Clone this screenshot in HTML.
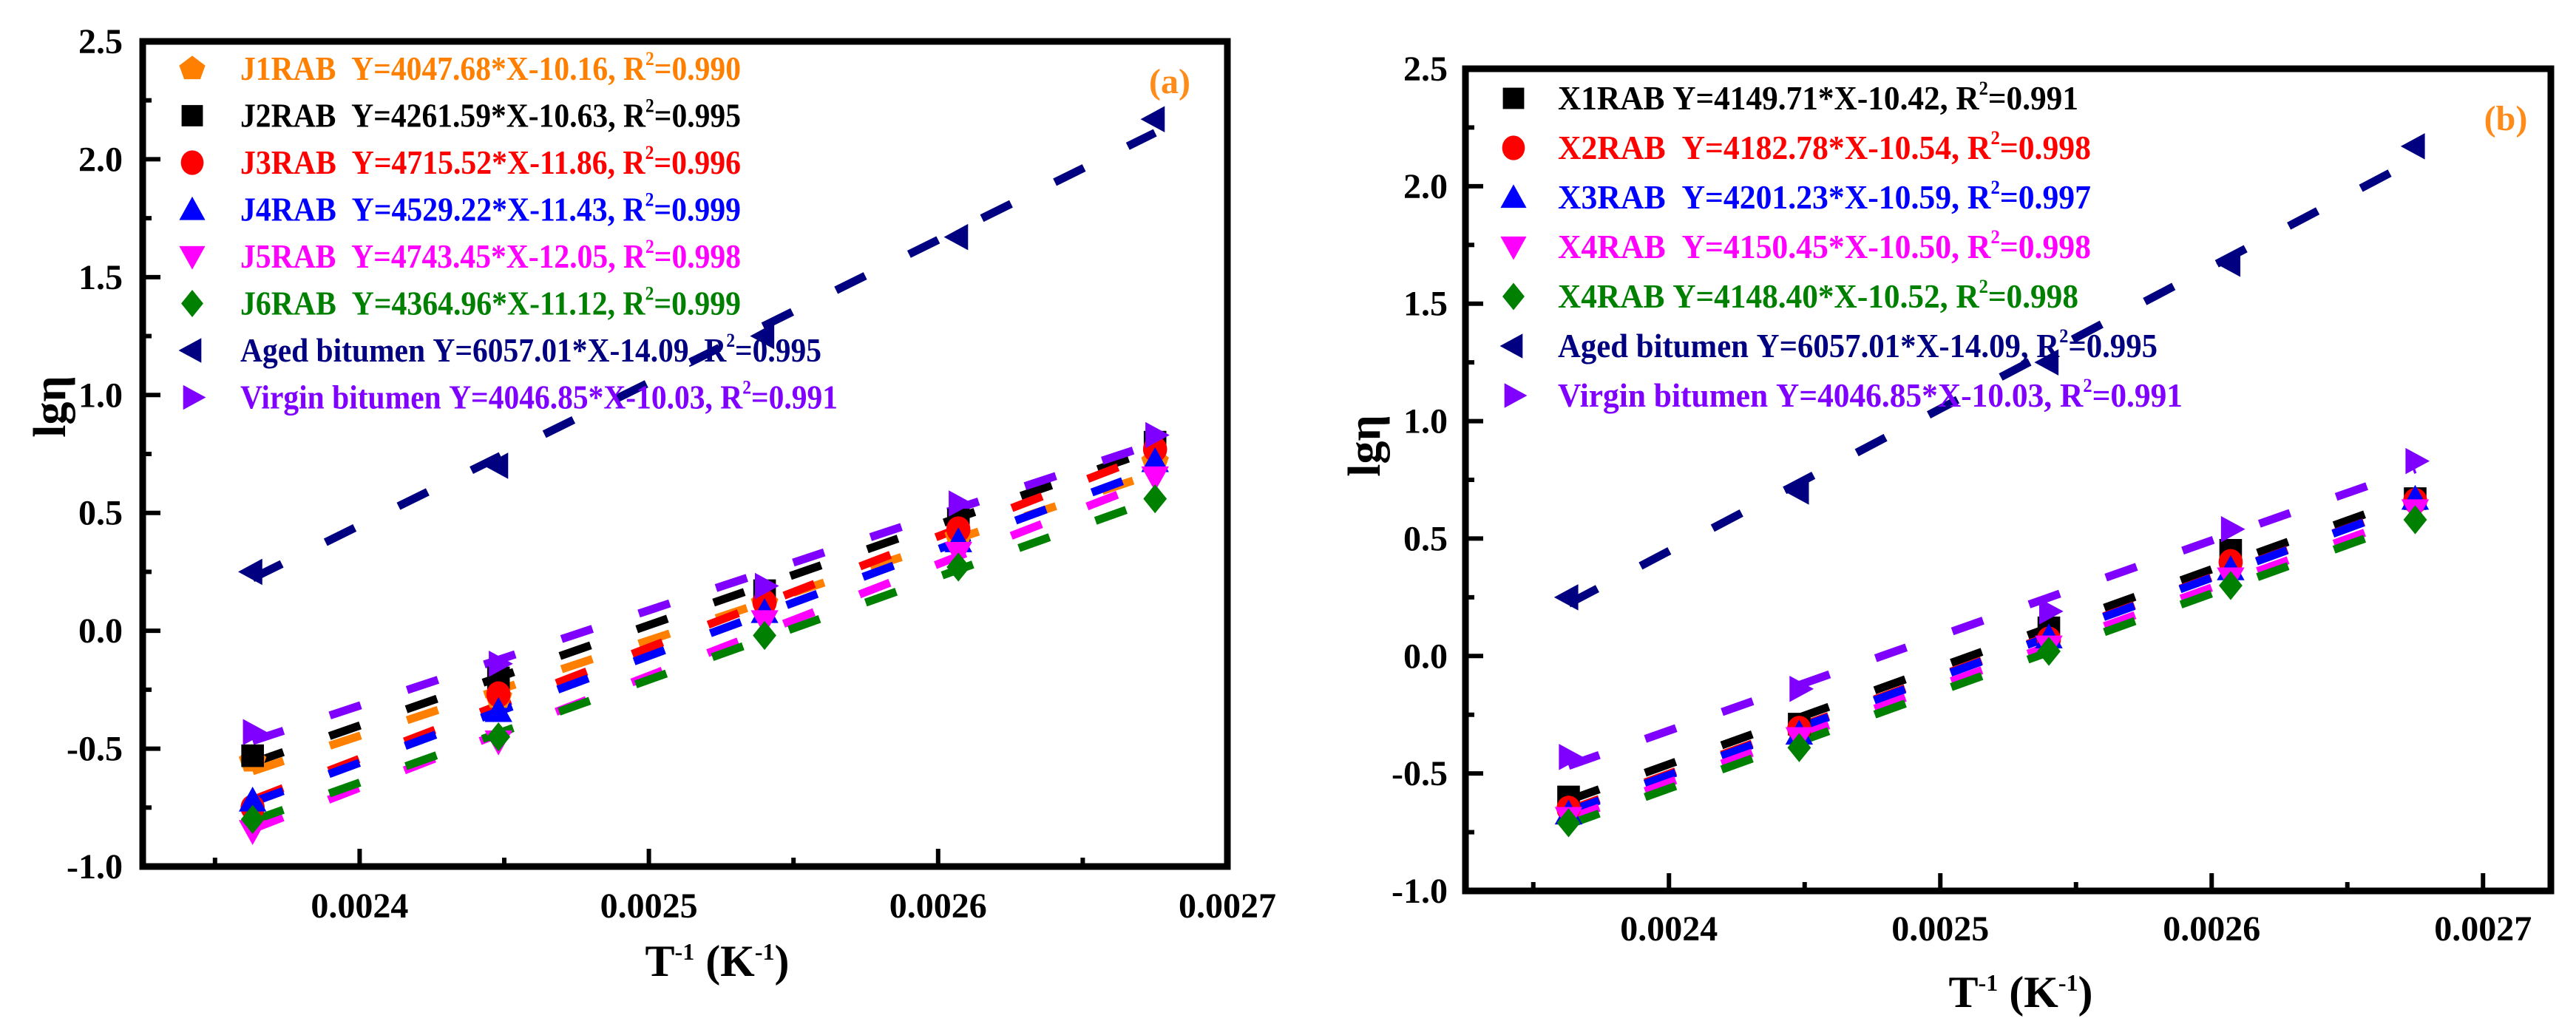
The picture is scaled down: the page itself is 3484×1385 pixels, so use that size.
<!DOCTYPE html>
<html><head><meta charset="utf-8">
<style>
html,body{margin:0;padding:0;background:#fff;}
svg{display:block;font-family:"Liberation Serif","DejaVu Serif",serif;}
svg text{font-family:"Liberation Serif","DejaVu Serif",serif !important;font-weight:bold;white-space:pre;}
</style></head>
<body>
<svg id="chart" width="3484" height="1385" viewBox="0 0 3484 1385" xmlns="http://www.w3.org/2000/svg" font-family="Liberation Serif, DejaVu Serif, serif"></svg>
<script>
// ---- data ----
const tempX = [0.002363, 0.002448, 0.002540, 0.002607, 0.002675];
const yTicks = [-1.0, -0.5, 0.0, 0.5, 1.0, 1.5, 2.0, 2.5];
const yTickLabels = ["-1.0","-0.5","0.0","0.5","1.0","1.5","2.0","2.5"];
const xTicks = [0.0024, 0.0025, 0.0026, 0.0027];
const xTickLabels = ["0.0024","0.0025","0.0026","0.0027"];

const aNames = ["J1RAB","J2RAB","J3RAB","J4RAB","J5RAB","J6RAB","Aged bitumen","Virgin bitumen"];
const aEq = ["  Y=4047.68*X-10.16, R","  Y=4261.59*X-10.63, R","  Y=4715.52*X-11.86, R","  Y=4529.22*X-11.43, R","  Y=4743.45*X-12.05, R","  Y=4364.96*X-11.12, R"," Y=6057.01*X-14.09, R"," Y=4046.85*X-10.03, R"];
const aR2 = ["=0.990","=0.995","=0.996","=0.999","=0.998","=0.999","=0.995","=0.991"];
const aSlope = [4047.68,4261.59,4715.52,4529.22,4743.45,4364.96,6057.01,4046.85];
const aIntercept = [-10.16,-10.63,-11.86,-11.43,-12.05,-11.12,-14.09,-10.03];
const aJ1 = [-0.55,-0.28,0.12,0.40,0.72];
const aJ2 = [-0.53,-0.20,0.17,0.47,0.80];
const aJ3 = [-0.75,-0.27,0.12,0.43,0.77];
const aJ4 = [-0.72,-0.34,0.08,0.38,0.72];
const aJ5 = [-0.85,-0.47,0.04,0.33,0.65];
const aJ6 = [-0.80,-0.45,-0.02,0.27,0.56];
const aged = [0.25,0.70,1.25,1.67,2.17];
const virgin = [-0.43,-0.14,0.19,0.54,0.83];

const bNames = ["X1RAB","X2RAB","X3RAB","X4RAB","X4RAB","Aged bitumen","Virgin bitumen"];
const bEq = [" Y=4149.71*X-10.42, R","  Y=4182.78*X-10.54, R","  Y=4201.23*X-10.59, R","  Y=4150.45*X-10.50, R"," Y=4148.40*X-10.52, R"," Y=6057.01*X-14.09, R"," Y=4046.85*X-10.03, R"];
const bR2 = ["=0.991","=0.998","=0.997","=0.998","=0.998","=0.995","=0.991"];
const bSlope = [4149.71,4182.78,4201.23,4150.45,4148.40,6057.01,4046.85];
const bIntercept = [-10.42,-10.54,-10.59,-10.50,-10.52,-14.09,-10.03];
const bX1 = [-0.60,-0.29,0.12,0.45,0.67];
const bX2 = [-0.65,-0.31,0.07,0.40,0.66];
const bX3 = [-0.67,-0.33,0.08,0.37,0.67];
const bX4m = [-0.69,-0.35,0.04,0.33,0.62];
const bX4g = [-0.71,-0.39,0.02,0.30,0.58];

const NS = "http://www.w3.org/2000/svg";
const FONT = "Liberation Serif, DejaVu Serif, serif";
const svg = document.getElementById('chart');
function el(tag, attrs, parent){
  const e = document.createElementNS(NS, tag);
  for (const k in attrs) e.setAttribute(k, attrs[k]);
  if (tag==='text'){ e.setAttribute('font-family', FONT); e.setAttribute('font-weight','bold'); }
  (parent||svg).appendChild(e);
  return e;
}

function marker(g, shape, cx, cy, color, s){
  let e;
  if (shape==='square') e = el('rect',{x:cx-s*0.45,y:cy-s*0.45,width:s*0.9,height:s*0.9,fill:color},g);
  else if (shape==='circle') e = el('ellipse',{cx:cx,cy:cy,rx:s*0.48,ry:s*0.52,fill:color},g);
  else {
    let pts;
    const h=s*0.55;
    if (shape==='pent') pts=[[0,-h],[h,-h*0.25],[h*0.62,h*0.8],[-h*0.62,h*0.8],[-h,-h*0.25]];
    else if (shape==='up') pts=[[0,-h],[h,h*0.8],[-h,h*0.8]];
    else if (shape==='down') pts=[[0,h],[h,-h*0.8],[-h,-h*0.8]];
    else if (shape==='diamond') pts=[[0,-h*1.05],[h*0.85,0],[0,h*1.05],[-h*0.85,0]];
    else if (shape==='left') pts=[[-h*1.05,0],[h*0.7,-h*0.95],[h*0.7,h*0.95]];
    else pts=[[h*1.05,0],[-h*0.7,-h*0.95],[-h*0.7,h*0.95]];
    e = el('polygon',{points:pts.map(p=>(cx+p[0])+','+(cy+p[1])).join(' '),fill:color},g);
  }
  return e;
}

function panel(cfg){
  const g = el('g',{});
  
  
  const L=cfg.L,R=cfg.R,T=cfg.T,B=cfg.B;
  const xs = v => L + (v-cfg.xmin)/(cfg.xmax-cfg.xmin)*(R-L);
  const ys = v => B - (v-(-1))/(3.5)*(B-T);
  yTicks.forEach((v,i)=>{
    const t = el('line',{x1:L,x2:L+24,y1:ys(v),y2:ys(v),stroke:'#000','stroke-width':6},g);
    
    
    if (i<yTicks.length-1){
      const m = el('line',{x1:L,x2:L+12,y1:ys(v+0.25),y2:ys(v+0.25),stroke:'#000','stroke-width':6},g);
      
      
    }
    const lb = el('text',{x:cfg.yLabRight,y:ys(v)+16,'text-anchor':'end','font-size':48,fill:'#000'},g);
    lb.textContent = yTickLabels[i];
    
    
  });
  xTicks.forEach((v,i)=>{
    const t = el('line',{x1:xs(v),x2:xs(v),y1:B,y2:B-24,stroke:'#000','stroke-width':6},g);
    
    
    const mv = v-0.00005;
    const m = el('line',{x1:xs(mv),x2:xs(mv),y1:B,y2:B-12,stroke:'#000','stroke-width':6},g);
    
    
    const lb = el('text',{x:xs(v),y:cfg.xLabY,'text-anchor':'middle','font-size':48,fill:'#000'},g);
    lb.textContent = xTickLabels[i];
    
    
  });
  cfg.series.forEach((s,i)=>{
    const x0=tempX[0], x1=tempX[tempX.length-1];
    const ln = el('line',{x1:xs(x0),y1:ys(s.slope*x0+s.icpt),x2:xs(x1),y2:ys(s.slope*x1+s.icpt),stroke:s.color,'stroke-width':11,'stroke-dasharray':'44 66'},g);
    
    
  });
  cfg.series.forEach((s,i)=>{
    s.vals.forEach((v,j)=>{
      const m = marker(g, s.shape, xs(tempX[j]), ys(v), s.color, 34);
      
      
    });
  });
  cfg.series.forEach((s,i)=>{
    const by = cfg.legY0 + i*cfg.legDy;
    const m = marker(g, s.shape, cfg.legMx, by-15, s.color, 32);
    
    
    const tx = el('text',{x:cfg.legTx,y:by,'font-size':46,fill:s.color,textLength:s.tl,lengthAdjust:'spacingAndGlyphs'},g);
    
    
    const a = document.createElementNS(NS,'tspan'); a.textContent = (s.label + s.eq).replace(/ /g,'\u00a0'); tx.appendChild(a);
    const b = document.createElementNS(NS,'tspan'); b.setAttribute('dy','-20'); b.setAttribute('font-size','26'); b.textContent='2'; tx.appendChild(b);
    const c = document.createElementNS(NS,'tspan'); c.setAttribute('dy','20'); c.textContent=s.r2; tx.appendChild(c);
  });
  const f = el('rect',{x:L,y:T,width:R-L,height:B-T,fill:'none',stroke:'#000','stroke-width':9},g);
  
  
  const pl = el('text',{x:cfg.tagX,y:cfg.tagY,'text-anchor':'middle','font-size':48,fill:'#ff8c1a'},g);
  pl.textContent = cfg.tag;
  
  
  const xt = el('text',{x:cfg.xtX,y:cfg.xtY,'text-anchor':'middle','font-size':60,fill:'#000'},g);
  
  
  xt.innerHTML = 'T<tspan dy="-22" font-size="32">-1</tspan><tspan dy="22">\u00a0(K</tspan><tspan dy="-22" font-size="32">-1</tspan><tspan dy="22">)</tspan>';
  const yt = el('text',{x:0,y:0,'text-anchor':'middle','font-size':62,fill:'#000',transform:'translate('+cfg.ytX+','+cfg.ytY+') rotate(-90)'},g);
  yt.textContent = 'lgη';
  
  
}

const aColors = ['#ff8000','#000000','#ff0000','#0000ff','#ff00ff','#008000','#000080','#8000ff'];
const aShapes = ['pent','square','circle','up','down','diamond','left','right'];
const aVals = [aJ1,aJ2,aJ3,aJ4,aJ5,aJ6,aged,virgin];
const aTL = [677,677,677,677,677,677,786,808];
const aSeries = aNames.map((n,i)=>({key:n.toLowerCase().replace(' ','-'),label:n,eq:aEq[i],r2:aR2[i],slope:aSlope[i],icpt:aIntercept[i],vals:aVals[i],color:aColors[i],shape:aShapes[i],tl:aTL[i]}));
panel({name:'panel-a',L:193,R:1660,T:56,B:1172,xmin:0.002325,xmax:0.0027,yLabRight:166,xLabY:1241,
  series:aSeries,legY0:108,legDy:63.5,legMx:260,legTx:325,tag:'(a)',tagX:1582,tagY:126,xtX:970,xtY:1320,ytX:88,ytY:550});

const bColors = ['#000000','#ff0000','#0000ff','#ff00ff','#008000','#000080','#8000ff'];
const bShapes = ['square','circle','up','down','diamond','left','right'];
const bVals = [bX1,bX2,bX3,bX4m,bX4g,aged,virgin];
const bTL = [704,721,721,721,704,811,845];
const bSeries = bNames.map((n,i)=>({key:n.toLowerCase().replace(' ','-')+(i===4?'-b':''),label:n,eq:bEq[i],r2:bR2[i],slope:bSlope[i],icpt:bIntercept[i],vals:bVals[i],color:bColors[i],shape:bShapes[i],tl:bTL[i]}));
panel({name:'panel-b',L:1982,R:3450,T:93,B:1205,xmin:0.002325,xmax:0.002725,yLabRight:1958,xLabY:1272,
  series:bSeries,legY0:148,legDy:67,legMx:2047,legTx:2107,tag:'(b)',tagX:3389,tagY:176,xtX:2733,xtY:1362,ytX:1866,ytY:603});
</script>
</body></html>
